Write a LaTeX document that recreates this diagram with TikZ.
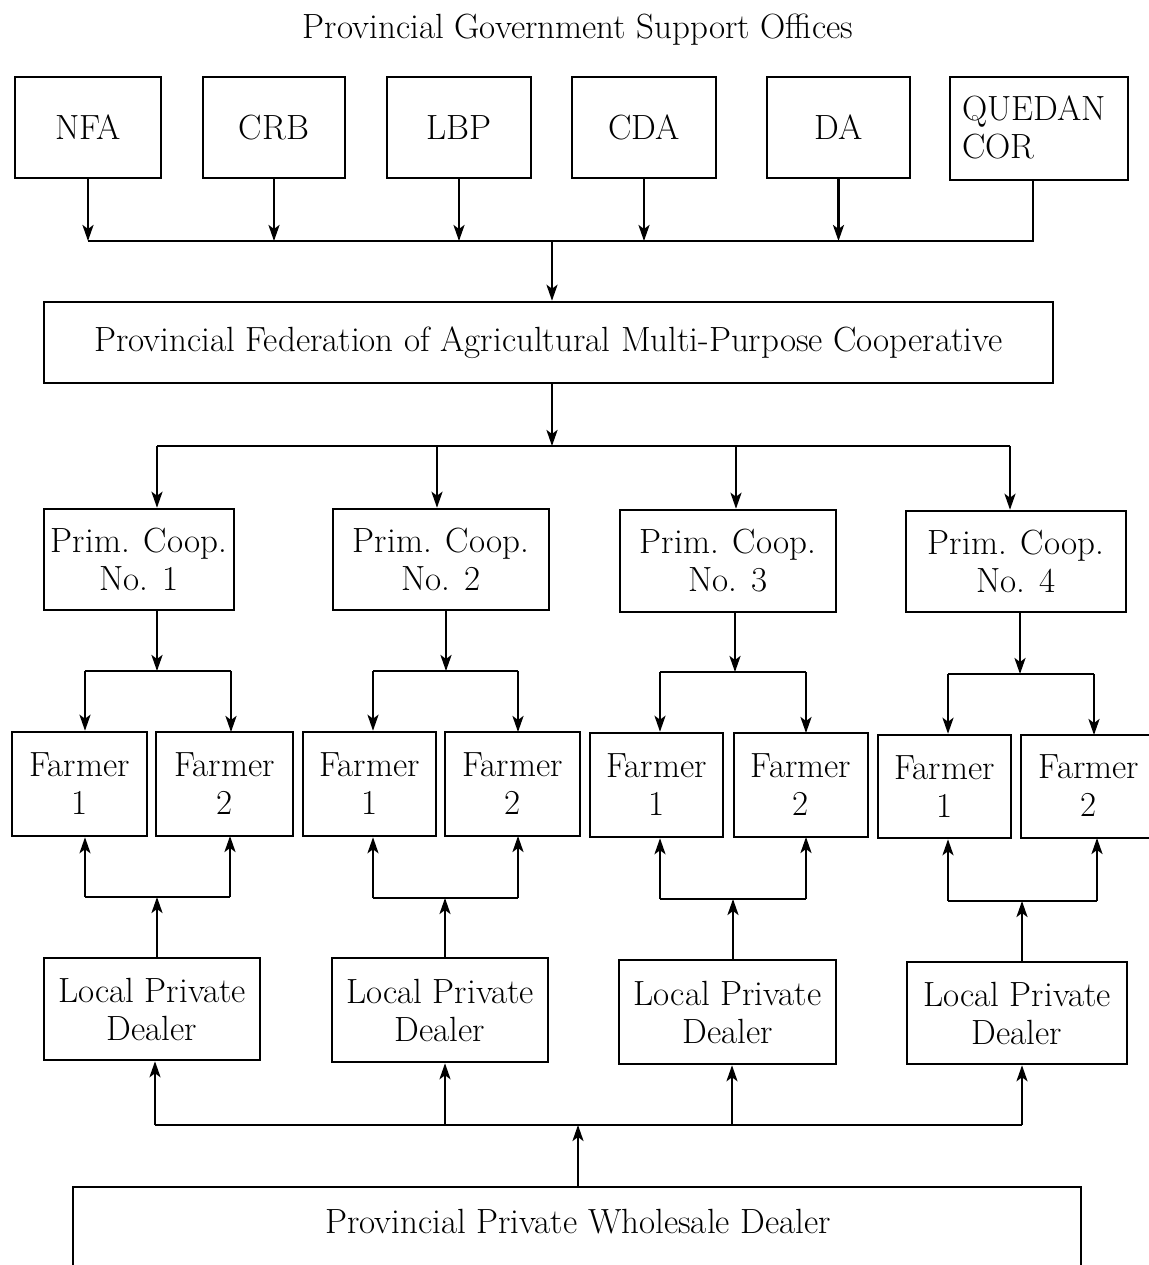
\documentclass[tikz,border=0pt]{standalone}
\usetikzlibrary{arrows.meta}
\begin{document}
\begin{tikzpicture}[x=0.5pt,y=-0.5pt,
  box/.style={draw,line width=1.25pt,inner sep=0pt,align=center,font=\fontsize{17.5}{19}\selectfont},
  lbl/.style={inner sep=0pt,align=center,font=\fontsize{17.5}{19}\selectfont},
  ln/.style={line width=1.25pt},
  arr/.style={line width=1.25pt,-{Stealth[length=8pt,width=5.5pt,inset=2pt]}}]
\useasboundingbox (0,0) rectangle (1149,1265);
\newcommand\rbox[6]{\node[box,minimum width={(#4-#2)*0.5pt},minimum height={(#5-#3)*0.5pt}] (#1) at ({(#2+#4)/2},{(#3+#5)/2}) {#6};}

\node[lbl] (title) at (578,30) {Provincial Government Support Offices};

% top offices
\rbox{nfa}{15}{77}{161}{178}{NFA}
\rbox{crb}{203}{77}{345}{178}{CRB}
\rbox{lbp}{387}{77}{531}{178}{LBP}
\rbox{cda}{572}{77}{716}{178}{CDA}
\rbox{da}{767}{77}{910}{178}{DA}
\rbox{qd}{950}{77}{1128}{180}{}
\node[lbl,align=left,anchor=west] (qdt) at (962,127) {QUEDAN\\COR};

\rbox{fed}{44}{302}{1053}{383}{Provincial Federation of Agricultural Multi-Purpose Cooperative}

% top bus
\coordinate (tb) at (0,241);
\coordinate (qdf) at (1033,241);
\coordinate (m1) at (552,241);
\foreach \n in {nfa,crb,lbp,cda,da}{\draw[arr] (\n.south) -- (\n.south |- tb);}
\draw[ln] (nfa.south |- tb) -- (qdf) -- (qdf |- qd.south);
\draw[arr] (m1) -- (m1 |- fed.north);

% coops
\rbox{c1}{44}{509}{234}{610}{Prim. Coop.\\No. 1}
\rbox{c2}{333}{509}{549}{610}{Prim. Coop.\\No. 2}
\rbox{c3}{620}{510}{836}{612}{Prim. Coop.\\No. 3}
\rbox{c4}{906}{511}{1126}{612}{Prim. Coop.\\No. 4}

\coordinate (cb) at (0,446);
\draw[arr] (m1 |- fed.south) -- (m1 |- cb);
\coordinate (k1) at (157,446);
\coordinate (k2) at (437,446);
\coordinate (k3) at (736,446);
\coordinate (k4) at (1010,446);
\draw[ln] (k1) -- (k4);
\draw[arr] (k1) -- (k1 |- c1.north);
\draw[arr] (k2) -- (k2 |- c2.north);
\draw[arr] (k3) -- (k3 |- c3.north);
\draw[arr] (k4) -- (k4 |- c4.north);

% farmers
\rbox{f11}{12}{732}{147}{836}{Farmer\\1}
\rbox{f12}{156}{732}{293}{836}{Farmer\\2}
\rbox{f21}{303}{732}{436}{836}{Farmer\\1}
\rbox{f22}{445}{732}{580}{836}{Farmer\\2}
\rbox{f31}{590}{733}{723}{837}{Farmer\\1}
\rbox{f32}{734}{733}{868}{837}{Farmer\\2}
\rbox{f41}{878}{735}{1011}{838}{Farmer\\1}
\draw[ln] (1149,735) -- (1021,735) -- (1021,838) -- (1149,838);
\node[lbl] (f42) at (1089,786) {Farmer\\2};

% coop -> farmers brackets
\foreach \c/\x/\y/\a/\b/\fa/\ft in {c1/157/671/85/231/f11/732, c2/446/671/373/518/f21/732, c3/735/672/660/806/f31/733, c4/1020/674/948/1094/f41/735}{
  \coordinate (u) at (\x,\y);
  \coordinate (ua) at (\a,\y);
  \coordinate (ub) at (\b,\y);
  \draw[arr] (u |- \c.south) -- (u);
  \draw[ln] (ua) -- (ub);
  \draw[arr] (ua) -- (ua |- \fa.north);
  \draw[arr] (ub) -- (\b,\ft);
}

% dealers
\rbox{d1}{44}{958}{260}{1060}{Local Private\\Dealer}
\rbox{d2}{332}{958}{548}{1062}{Local Private\\Dealer}
\rbox{d3}{619}{960}{836}{1064}{Local Private\\Dealer}
\rbox{d4}{907}{962}{1127}{1064}{Local Private\\Dealer}

% dealers -> farmers brackets
\foreach \d/\x/\y/\a/\b/\fa/\fy in {d1/157/897/85/230/f11/836, d2/445/898/373/518/f21/836, d3/733/899/660/806/f31/837, d4/1022/901/948/1097/f41/838}{
  \coordinate (w) at (\x,\y);
  \coordinate (wa) at (\a,\y);
  \coordinate (wb) at (\b,\y);
  \draw[arr] (w |- \d.north) -- (w);
  \draw[ln] (wa) -- (wb);
  \draw[arr] (wa) -- (wa |- \fa.south);
  \draw[arr] (wb) -- (\b,\fy);
}

% wholesale
\draw[ln] (73,1265) -- (73,1187) -- (1081,1187) -- (1081,1265);
\coordinate (ws) at (578,1187);
\node[lbl] (wsl) at (578,1222) {Provincial Private Wholesale Dealer};
\coordinate (bb) at (578,1125);
\draw[arr] (ws) -- (bb);
\coordinate (e1) at (155,1125);
\coordinate (e2) at (445,1125);
\coordinate (e3) at (732,1125);
\coordinate (e4) at (1022,1125);
\draw[ln] (e1) -- (e4);
\draw[arr] (e1) -- (e1 |- d1.south);
\draw[arr] (e2) -- (e2 |- d2.south);
\draw[arr] (e3) -- (e3 |- d3.south);
\draw[arr] (e4) -- (e4 |- d4.south);
\end{tikzpicture}
\end{document}
